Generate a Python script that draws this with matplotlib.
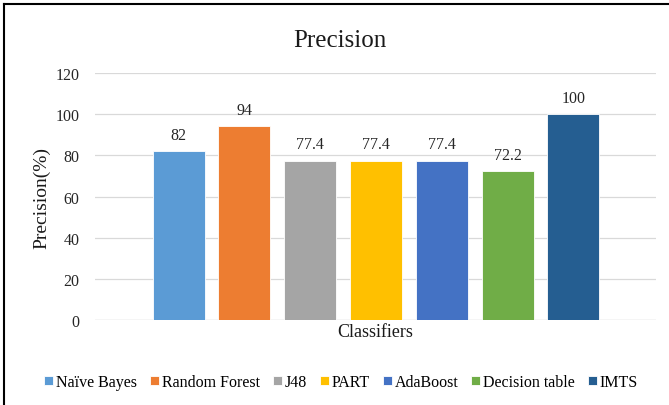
import numpy as np
import matplotlib.pyplot as plt
from matplotlib.lines import Line2D

classifiers = ["Naïve Bayes", "Random Forest", "J48", "PART", "AdaBoost", "Decision table", "IMTS"]
precision = [82, 94, 77.4, 77.4, 77.4, 72.2, 100]
colors = ["#5B9BD5", "#ED7D31", "#A5A5A5", "#FFC000", "#4472C4", "#70AD47", "#255E91"]
yticks = [0, 20, 40, 60, 80, 100, 120]

plt.rcParams['font.family'] = ['Liberation Serif', 'DejaVu Serif']

fig = plt.figure(figsize=(6.69, 4.06), dpi=100)
ax = fig.add_axes([0.142, 0.209, 0.838, 0.609])

x = np.arange(len(classifiers))
for i in range(len(classifiers)):
    ax.bar(x[i], precision[i], width=0.79, color=colors[i], edgecolor="white",
           linewidth=0.6, label=classifiers[i], zorder=3)
    lab = ("%g" % precision[i])
    ax.text(x[i], precision[i] + 4, lab, ha="center", va="bottom", fontsize=11.5, color="#262626")

ax.set_ylim(0, 120)
ax.set_xlim(-1.27, 7.25)
ax.set_yticks(yticks)
ax.tick_params(axis="y", length=0, labelsize=11.5, pad=11, colors="#262626")
ax.set_xticks([])
ax.grid(axis="y", color="#D9D9D9", linewidth=0.9, zorder=0)
for s in ax.spines.values():
    s.set_visible(False)
ax.axhline(0, color="#D9D9D9", linewidth=0.9, zorder=2)

fig.text(0.508, 0.9, "Precision", fontsize=18, ha="center", va="center", color="#1a1a1a")
ax.set_ylabel("Precision(%)", fontsize=14, labelpad=4, color="#1a1a1a")
ax.set_xlabel("Classifiers", fontsize=13, labelpad=2, color="#1a1a1a")

fig.legend(loc="center", bbox_to_anchor=(0.51, 0.056), ncol=7, frameon=False,
           fontsize=11.5, handlelength=0.55, handleheight=0.55, handletextpad=0.2,
           columnspacing=0.8)

# frame of the chart image (top and left edge)
fig.add_artist(Line2D([0.006, 0.006], [0.0, 0.988], transform=fig.transFigure, color="black", linewidth=1.5))
fig.add_artist(Line2D([0.006, 1.0], [0.988, 0.988], transform=fig.transFigure, color="black", linewidth=1.5))

fig.savefig("out.png", dpi=100)
